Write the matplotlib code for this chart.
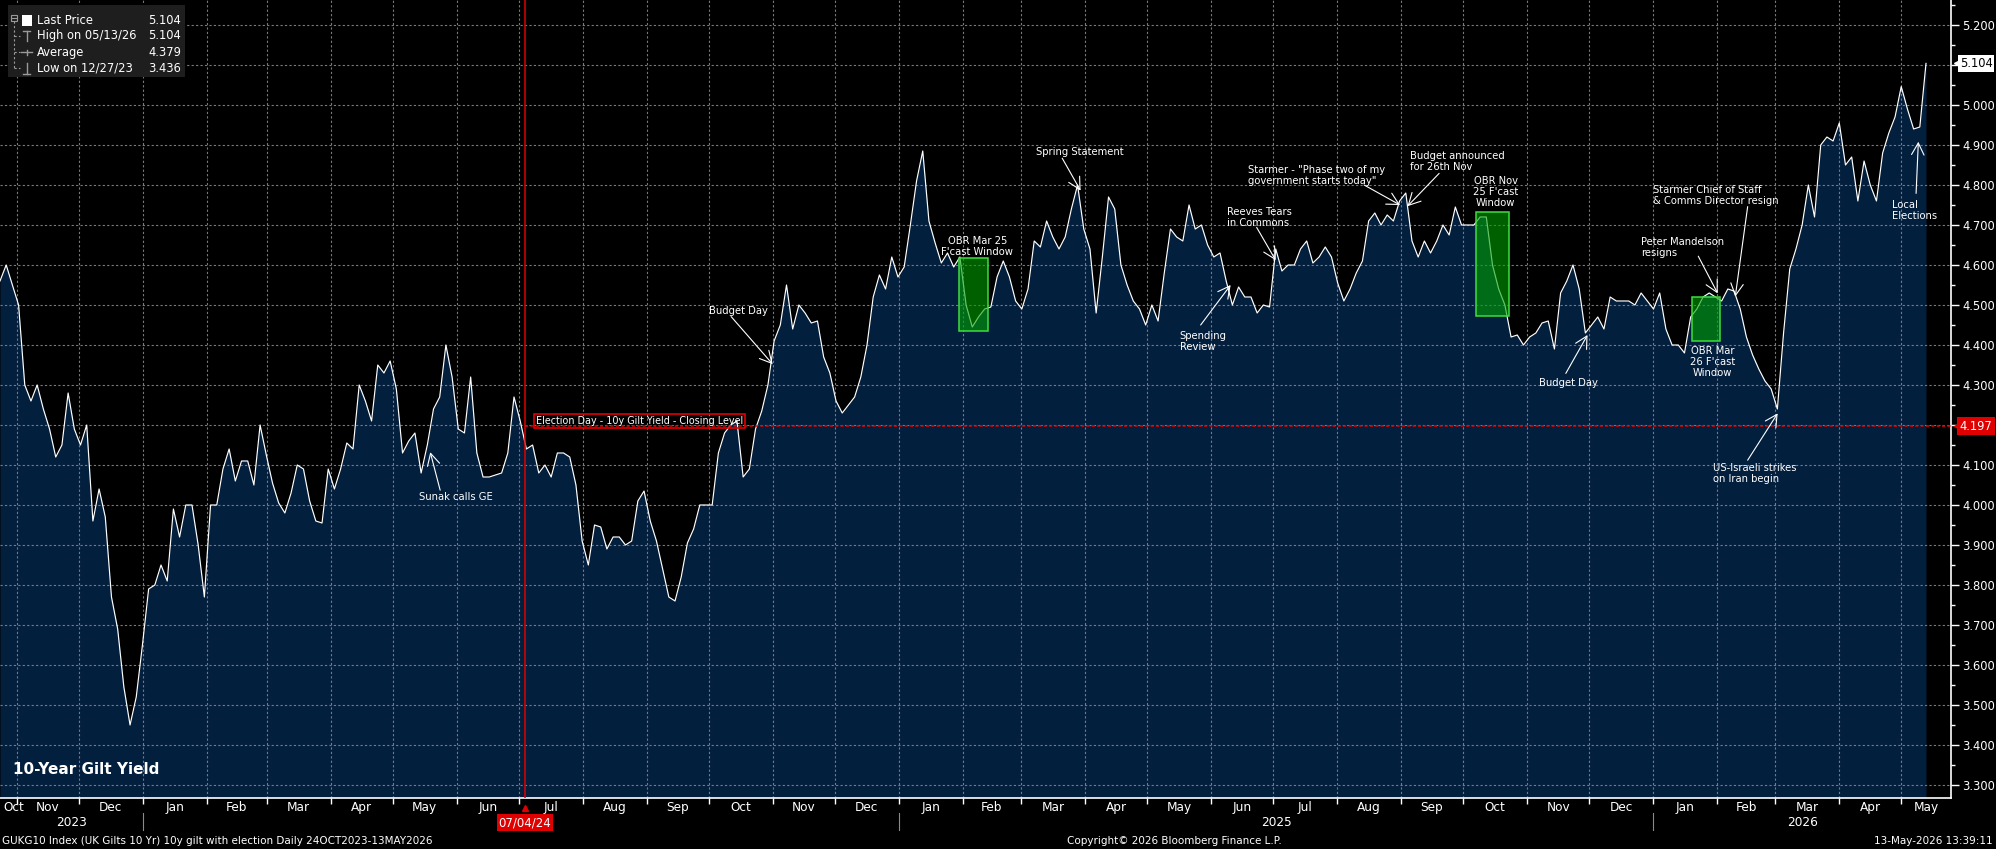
import matplotlib
matplotlib.use("Agg")
import matplotlib.pyplot as plt
import matplotlib.dates as mdates
import numpy as np
import pandas as pd
from matplotlib.patches import Rectangle
from matplotlib.lines import Line2D
from matplotlib.transforms import blended_transform_factory

plt.rcParams['font.family'] = ['DejaVu Sans']

# ---------------- data ----------------
START = "2023-10-24"
END = "2026-05-13"
ELECTION_DATE = "2024-07-04"
ELECTION_CLOSE = 4.197
LAST_PRICE = 5.104
HIGH_DATE, HIGH_VAL = "05/13/26", 5.104
AVERAGE = 4.379
LOW_DATE, LOW_VAL = "12/27/23", 3.436

gilt_10y = [
    4.56, 4.60, 4.55, 4.50, 4.30, 4.26, 4.30, 4.24, 4.19, 4.12,
    4.15, 4.28, 4.19, 4.15, 4.20, 3.96, 4.04, 3.97, 3.77, 3.69,
    3.545, 3.45, 3.52, 3.65, 3.79, 3.80, 3.85, 3.81, 3.99, 3.92,
    4.00, 4.00, 3.90, 3.77, 4.00, 4.00, 4.09, 4.14, 4.06, 4.11,
    4.11, 4.05, 4.20, 4.125, 4.055, 4.005, 3.98, 4.03, 4.10, 4.09,
    4.01, 3.96, 3.955, 4.09, 4.04, 4.09, 4.155, 4.14, 4.30, 4.26,
    4.21, 4.35, 4.33, 4.36, 4.29, 4.13, 4.16, 4.18, 4.08, 4.15,
    4.24, 4.27, 4.40, 4.32, 4.19, 4.18, 4.32, 4.13, 4.07, 4.07,
    4.075, 4.08, 4.13, 4.27, 4.21, 4.14, 4.15, 4.08, 4.10, 4.07,
    4.13, 4.13, 4.12, 4.05, 3.91, 3.85, 3.95, 3.945, 3.89, 3.92,
    3.92, 3.90, 3.91, 4.01, 4.035, 3.96, 3.91, 3.84, 3.77, 3.76,
    3.82, 3.905, 3.94, 4.00, 4.00, 4.00, 4.13, 4.18, 4.20, 4.21,
    4.07, 4.09, 4.19, 4.235, 4.30, 4.41, 4.45, 4.55, 4.44, 4.50,
    4.48, 4.455, 4.46, 4.37, 4.33, 4.26, 4.23, 4.25, 4.27, 4.32,
    4.40, 4.52, 4.575, 4.54, 4.62, 4.57, 4.595, 4.70, 4.81, 4.885,
    4.71, 4.655, 4.605, 4.63, 4.595, 4.62, 4.50, 4.445, 4.47, 4.49,
    4.495, 4.57, 4.61, 4.57, 4.51, 4.49, 4.54, 4.66, 4.645, 4.71,
    4.67, 4.64, 4.67, 4.74, 4.80, 4.69, 4.64, 4.48, 4.62, 4.77,
    4.74, 4.60, 4.55, 4.51, 4.49, 4.45, 4.50, 4.46, 4.58, 4.69,
    4.67, 4.66, 4.75, 4.69, 4.70, 4.65, 4.62, 4.63, 4.56, 4.50,
    4.545, 4.52, 4.52, 4.48, 4.50, 4.495, 4.64, 4.585, 4.60, 4.60,
    4.64, 4.66, 4.605, 4.62, 4.645, 4.62, 4.555, 4.51, 4.54, 4.58,
    4.61, 4.71, 4.73, 4.70, 4.725, 4.71, 4.76, 4.78, 4.66, 4.62,
    4.66, 4.63, 4.66, 4.70, 4.675, 4.745, 4.70, 4.70, 4.70, 4.72,
    4.72, 4.60, 4.54, 4.50, 4.42, 4.425, 4.40, 4.42, 4.43, 4.455,
    4.46, 4.39, 4.53, 4.56, 4.60, 4.54, 4.43, 4.45, 4.47, 4.44,
    4.52, 4.51, 4.51, 4.51, 4.50, 4.53, 4.51, 4.49, 4.53, 4.44,
    4.40, 4.40, 4.38, 4.47, 4.49, 4.52, 4.53, 4.52, 4.51, 4.54,
    4.535, 4.49, 4.42, 4.375, 4.34, 4.31, 4.29, 4.24, 4.43, 4.59,
    4.64, 4.70, 4.80, 4.72, 4.90, 4.92, 4.91, 4.955, 4.85, 4.87,
    4.76, 4.86, 4.80, 4.76, 4.88, 4.93, 4.97, 5.046, 4.99, 4.94,
    4.945, 5.104,
]

# event annotations: text, text pos (day offset from START, yield), arrow tail, arrow tip
events = [
    ("Sunak calls GE", 202.9, 4.021, 213.0, 4.037, 208.2, 4.132),
    ("Budget Day", 343.3, 4.485, 353.8, 4.471, 373.9, 4.352),
    ("Spring Statement", 501.1, 4.882, 514.0, 4.867, 522.9, 4.786),
    ("Spending\nReview", 570.8, 4.408, 581.0, 4.450, 595.5, 4.550),
    ("Reeves Tears\nin Commons", 593.9, 4.718, 608.1, 4.694, 617.3, 4.612),
    ("Starmer - \"Phase two of my\ngovernment starts today\"", 604.1, 4.823, 660.1, 4.800, 677.5, 4.750),
    ("Budget announced\nfor 26th Nov", 682.2, 4.858, 696.4, 4.829, 681.1, 4.747),
    ("Budget Day", 744.8, 4.306, 757.7, 4.329, 768.2, 4.425),
    ("Peter Mandelson\nresigns", 794.0, 4.643, 821.8, 4.622, 831.2, 4.529),
    ("Starmer Chief of Staff\n& Comms Director resign", 800.0, 4.773, 845.7, 4.746, 839.7, 4.521),
    ("US-Israeli strikes\non Iran begin", 828.9, 4.079, 845.7, 4.112, 860.2, 4.229),
    ("Local\nElections", 915.5, 4.736, 927.2, 4.779, 928.3, 4.908),
]

# OBR forecast windows: label, start day, end day, low, high, label pos
obr_windows = [
    ("OBR Mar 25\nF'cast Window", 464.0, 478.0, 4.436, 4.618, 472.9, 4.646),
    ("OBR Nov\n25 F'cast\nWindow", 714.1, 730.3, 4.473, 4.733, 723.8, 4.783),
    ("OBR Mar\n26 F'cast\nWindow", 818.7, 832.1, 4.411, 4.519, 828.7, 4.357),
]

# ---------------- figure ----------------
W, H = 1996, 849
fig = plt.figure(figsize=(W / 100, H / 100), dpi=100, facecolor='black')
ax = fig.add_axes([0, 51 / H, 1951 / W, 798 / H])
ax.set_facecolor('black')

start = pd.Timestamp(START)
end = pd.Timestamp(END)
dates = pd.date_range(start, end, periods=len(gilt_10y))
d0 = mdates.date2num(start)
span = mdates.date2num(end) - d0
xmin, xmax = d0, d0 + span * 1951 / 1926
ymin, ymax = 3.2675, 5.2625
ax.set_xlim(xmin, xmax)
ax.set_ylim(ymin, ymax)

navy = '#031f3e'
xd = mdates.date2num(dates)
ax.fill_between(xd, gilt_10y, ymin, color=navy, lw=0, zorder=1)
ax.plot(xd, gilt_10y, color='white', lw=0.85, zorder=3)

# grid / ticks
month_starts = pd.date_range('2023-11-01', '2026-05-01', freq='MS')
ms_num = mdates.date2num(month_starts)
ax.set_xticks(ms_num)
ax.set_yticks(np.round(np.arange(3.3, 5.2001, 0.1), 3))
ax.set_yticks(np.round(np.arange(3.35, 5.2501, 0.1), 3), minor=True)
ax.grid(True, which='major', color='#7a7a7a', linestyle=(0, (2, 2)), lw=0.8)
ax.yaxis.tick_right()
ax.yaxis.set_major_formatter(matplotlib.ticker.FormatStrFormatter('%.3f'))
ax.tick_params(axis='y', which='major', colors='white', length=6, width=1,
               labelsize=8.3, pad=2, direction='out')
ax.tick_params(axis='y', which='minor', colors='white', length=3, width=1)
ax.tick_params(axis='x', which='major', colors='white', length=4, width=1,
               labelbottom=False, direction='out')
for s in ('top', 'left'):
    ax.spines[s].set_visible(False)
for s in ('right', 'bottom'):
    ax.spines[s].set_color('white')
    ax.spines[s].set_linewidth(1.2)

blend = blended_transform_factory(ax.transData, ax.transAxes)
blend_y = blended_transform_factory(ax.transAxes, ax.transData)

# month labels centred in visible month segments
bounds = [xmin] + list(ms_num) + [xmax]
seg_months = [start] + list(month_starts)
for i, m in enumerate(seg_months):
    a, b = bounds[i], bounds[i + 1]
    if i == 0:
        ax.text(a + 1.5, -0.0113, m.strftime('%b'), transform=blend, ha='left',
                va='center', color='white', fontsize=8.7, clip_on=False)
    else:
        ax.text((a + b) / 2, -0.0113, m.strftime('%b'), transform=blend, ha='center',
                va='center', color='white', fontsize=8.7, clip_on=False)

# year labels and separators
elec = mdates.date2num(pd.Timestamp(ELECTION_DATE))
for yr in range(start.year, end.year + 1):
    a = max(xmin, mdates.date2num(pd.Timestamp(f'{yr}-01-01')))
    b = min(xmax, mdates.date2num(pd.Timestamp(f'{yr + 1}-01-01')))
    c = (a + b) / 2
    if abs(c - elec) > 40:
        ax.text(c, -0.0313, str(yr), transform=blend, ha='center', va='center',
                color='white', fontsize=8.7, clip_on=False)
    if yr > start.year:
        ax.plot([a, a], [-0.019, -0.040], transform=blend, color='#8a8a8a', lw=0.8,
                clip_on=False)

# election day markers
ax.axvline(elec, color='#e00000', lw=1.1, zorder=4)
ax.plot([elec, xmax], [ELECTION_CLOSE, ELECTION_CLOSE], color='#e00000', lw=1.1,
        linestyle=(0, (2, 1.5)), zorder=4)
ax.text(d0 + 259.5, 4.211, 'Election Day - 10y Gilt Yield - Closing Level', color='white',
        fontsize=6.9, ha='left', va='center', zorder=5,
        bbox=dict(boxstyle='square,pad=0.2', fc='none', ec='#e00000', lw=1.2))
ax.plot([elec], [-0.013], marker='^', color='#e00000', ms=5, transform=blend, clip_on=False)
ax.text(elec, -0.031, pd.Timestamp(ELECTION_DATE).strftime('%m/%d/%y'), transform=blend,
        ha='center', va='center', color='white', fontsize=8.5, clip_on=False, zorder=10,
        bbox=dict(boxstyle='square,pad=0.15', fc='#e00000', ec='none'))

# OBR windows
for label, a, b, lo, hi, lx, ly in obr_windows:
    ax.add_patch(Rectangle((d0 + a, lo), b - a, hi - lo, facecolor=(0.0, 0.63, 0.0, 0.6),
                           edgecolor='#3fdc3f', lw=1.1, zorder=5))
    ax.text(d0 + lx, ly, label, color='white', fontsize=7.2, ha='center', va='center',
            multialignment='center', linespacing=1.15, zorder=6)

# event annotations
for text, tx, ty, ax_, ay, px, py in events:
    ax.annotate('', xy=(d0 + px, py), xytext=(d0 + ax_, ay),
                arrowprops=dict(arrowstyle='->,head_length=0.85,head_width=0.45',
                                color='white', lw=0.8, shrinkA=0, shrinkB=0),
                zorder=6)
    ax.text(d0 + tx, ty, text, color='white', fontsize=7.2, ha='left', va='center',
            linespacing=1.15, zorder=6)

# right-hand value tags
ax.plot([1.003], [LAST_PRICE], marker='<', color='white', ms=5, transform=blend_y,
        clip_on=False, zorder=10)
ax.text(1.0045, LAST_PRICE, f'{LAST_PRICE:.3f}', transform=blend_y, color='black',
        fontsize=8.3, ha='left', va='center', clip_on=False, zorder=10,
        bbox=dict(boxstyle='square,pad=0.15', fc='white', ec='none'))
ax.plot([1.003], [ELECTION_CLOSE], marker='<', color='#e00000', ms=5, transform=blend_y,
        clip_on=False, zorder=10)
ax.text(1.0045, ELECTION_CLOSE, f'{ELECTION_CLOSE:.3f}', transform=blend_y, color='white',
        fontsize=8.3, ha='left', va='center', clip_on=False, zorder=10,
        bbox=dict(boxstyle='square,pad=0.2', fc='#e00000', ec='none'))

# chart title in lower-left
fig.text(13 / W, 1 - 769 / H, '10-Year Gilt Yield', color='white', fontsize=11,
         fontweight='bold', ha='left', va='center')


# ---------------- legend (top-left) ----------------
def fx(x):
    return x / W


def fy(y):
    return 1 - y / H


fig.add_artist(Rectangle((fx(8), fy(77)), fx(177), 72 / H, transform=fig.transFigure,
                         facecolor='#1e1e1e', edgecolor='none', zorder=5))
rows = [
    ('Last Price', f'{LAST_PRICE:.3f}', 20.7),
    (f'High on {HIGH_DATE}', f'{HIGH_VAL:.3f}', 35.7),
    ('Average', f'{AVERAGE:.3f}', 52.3),
    (f'Low on {LOW_DATE}', f'{LOW_VAL:.3f}', 68.3),
]
for lab, val, y in rows:
    fig.text(fx(37), fy(y), lab, color='white', fontsize=8.3, ha='left', va='center', zorder=6)
    fig.text(fx(181), fy(y), val, color='white', fontsize=8.3, ha='right', va='center', zorder=6)
gray = '#9a9a9a'
fig.add_artist(Rectangle((fx(21.5), fy(25.5)), fx(10.5), 10.5 / H, transform=fig.transFigure,
                         facecolor='white', edgecolor='none', zorder=6))
fig.add_artist(Rectangle((fx(11), fy(21)), fx(6), 6 / H, transform=fig.transFigure,
                         facecolor='none', edgecolor=gray, lw=0.8, zorder=6))
fig.add_artist(Line2D([fx(12), fx(16)], [fy(18), fy(18)], color=gray, lw=0.8, zorder=6))
fig.add_artist(Line2D([fx(14), fx(14)], [fy(21), fy(68)], color=gray, lw=0.8,
                      linestyle=(0, (2, 2)), zorder=6))
for y in (35.7, 52.3, 68.3):
    fig.add_artist(Line2D([fx(14), fx(20)], [fy(y), fy(y)], color=gray, lw=0.8,
                          linestyle=(0, (2, 2)), zorder=6))
# high marker (T), average marker (-+-), low marker (inverted T)
fig.add_artist(Line2D([fx(23), fx(30)], [fy(30.5), fy(30.5)], color=gray, lw=1, zorder=6))
fig.add_artist(Line2D([fx(26.5), fx(26.5)], [fy(30.5), fy(41)], color=gray, lw=1, zorder=6))
fig.add_artist(Line2D([fx(21), fx(32)], [fy(52.3), fy(52.3)], color=gray, lw=1, zorder=6))
fig.add_artist(Line2D([fx(26.5), fx(26.5)], [fy(49.5), fy(55)], color=gray, lw=1, zorder=6))
fig.add_artist(Line2D([fx(23), fx(30)], [fy(73.5), fy(73.5)], color=gray, lw=1, zorder=6))
fig.add_artist(Line2D([fx(26.5), fx(26.5)], [fy(63), fy(73.5)], color=gray, lw=1, zorder=6))

# ---------------- footer ----------------
fig.text(fx(2), fy(841), 'GUKG10 Index (UK Gilts 10 Yr) 10y gilt with election Daily '
         '24OCT2023-13MAY2026', color='white', fontsize=7.5, ha='left', va='center')
fig.text(fx(1174), fy(841), 'Copyright\u00a9 2026 Bloomberg Finance L.P.', color='white',
         fontsize=7.5, ha='center', va='center')
fig.text(fx(1993), fy(841), '13-May-2026 13:39:11', color='white', fontsize=7.5,
         ha='right', va='center')

fig.savefig('out.png', dpi=100, facecolor='black')
